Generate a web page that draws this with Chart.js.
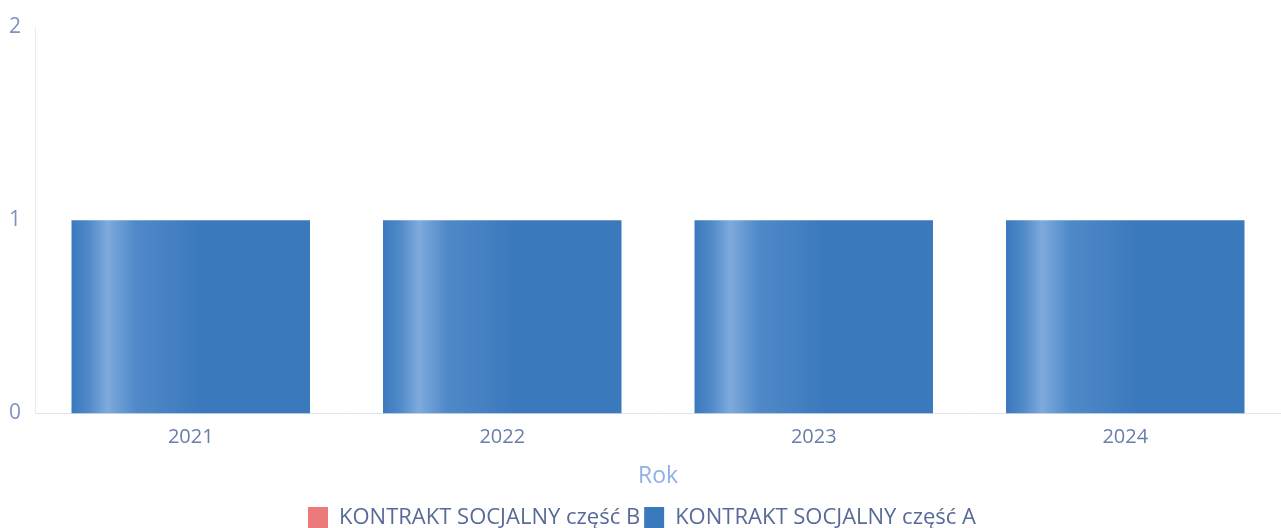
<!DOCTYPE html>
<html>
<head>
<meta charset="utf-8">
<script src="https://cdn.jsdelivr.net/npm/chart.js@4"></script>
<style>
  html, body { margin: 0; padding: 0; background: #fff; }
  #wrap { width: 1281px; height: 528px; }
</style>
</head>
<body>
<div id="wrap"><canvas id="chart"></canvas></div>
<script>
// --- Data ---
const years = ['2021', '2022', '2023', '2024'];
const partB = [0, 0, 0, 0];
const partA = [1, 1, 1, 1];

const barPct = 0.88;
const catPct = 0.87;

// vertical sheen gradient across each bar
function sheen(dark, light, mid) {
    return (ctx) => {
        const chart = ctx.chart;
        const xs = chart.scales && chart.scales.x;
        if (!chart.chartArea || !xs || ctx.dataIndex === undefined) return dark;
        const center = xs.getPixelForValue(ctx.dataIndex);
        const half = xs.width / years.length * barPct * catPct / 2;
        const g = chart.ctx.createLinearGradient(center - half, 0, center + half, 0);
        g.addColorStop(0, dark);
        g.addColorStop(0.07, mid);
        g.addColorStop(0.15, light);
        g.addColorStop(0.27, mid);
        g.addColorStop(0.55, dark);
        g.addColorStop(1, dark);
        return g;
    };
}

new Chart(document.getElementById('chart'), {
    type: 'bar',
    data: {
        labels: years,
        datasets: [
            {
                label: 'KONTRAKT SOCJALNY część B',
                data: partB,
                backgroundColor: sheen('#ec7a7a', '#f7a9a9', '#f08c8c'),
                barPercentage: barPct,
                categoryPercentage: catPct
            },
            {
                label: 'KONTRAKT SOCJALNY część A',
                data: partA,
                backgroundColor: sheen('#3b79bd', '#7eaadd', '#4f89c8'),
                barPercentage: barPct,
                categoryPercentage: catPct
            }
        ]
    },
    options: {
        responsive: true,
        maintainAspectRatio: false,
        animation: false,
        layout: { padding: { top: 27, right: 0, left: 3, bottom: -11 } },
        scales: {
            x: {
                stacked: true,
                grid: { display: false },
                border: { color: '#dde3ec', width: 1 },
                ticks: {
                    color: '#6a7eab',
                    font: { family: 'Open Sans', size: 20 },
                    padding: 4
                },
                title: {
                    display: true,
                    text: 'Rok',
                    color: '#8fb0e8',
                    font: { family: 'Open Sans', size: 23 },
                    padding: { top: 9, bottom: 13 }
                }
            },
            y: {
                stacked: true,
                min: 0,
                max: 2,
                ticks: {
                    stepSize: 1,
                    color: '#7f93c0',
                    font: { family: 'Open Sans', size: 21 },
                    padding: 6
                },
                grid: { display: false },
                border: { color: '#e8ecf2', dash: [2, 3], width: 1 }
            }
        },
        plugins: {
            legend: {
                position: 'bottom',
                labels: {
                    color: '#5a6a98',
                    font: { family: 'Open Sans', size: 22 },
                    boxWidth: 20,
                    boxHeight: 22,
                    padding: 4
                }
            },
            tooltip: { enabled: false }
        }
    }
});
</script>
</body>
</html>
